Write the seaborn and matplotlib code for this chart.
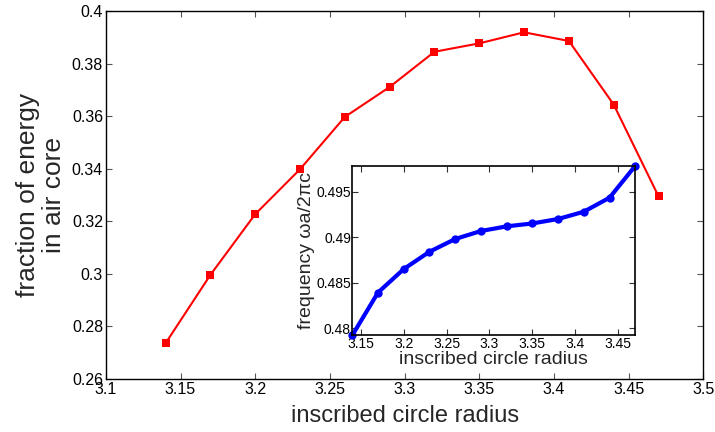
import matplotlib
matplotlib.use("Agg")
import matplotlib.pyplot as plt
import seaborn as sns
import pandas as pd

radius = [3.14, 3.17, 3.20, 3.23, 3.26, 3.29, 3.32, 3.35, 3.38, 3.41, 3.44, 3.47]
energy_fraction = [0.2736, 0.2996, 0.3227, 0.3398, 0.3597, 0.3711, 0.3845, 0.3877, 0.3919, 0.3886, 0.3644, 0.3295]
frequency = [0.4792, 0.4839, 0.48648, 0.48838, 0.48978, 0.49066, 0.49117, 0.49149, 0.49198, 0.49278, 0.49432, 0.49782]

main_xticks = [3.1, 3.15, 3.2, 3.25, 3.3, 3.35, 3.4, 3.45, 3.5]
main_xticklabels = ["3.1", "3.15", "3.2", "3.25", "3.3", "3.35", "3.4", "3.45", "3.5"]
main_yticks = [0.26, 0.28, 0.30, 0.32, 0.34, 0.36, 0.38, 0.40]
main_yticklabels = ["0.26", "0.28", "0.3", "0.32", "0.34", "0.36", "0.38", "0.4"]
inset_xticks = [3.15, 3.2, 3.25, 3.3, 3.35, 3.4, 3.45]
inset_xticklabels = ["3.15", "3.2", "3.25", "3.3", "3.35", "3.4", "3.45"]
inset_yticks = [0.48, 0.485, 0.49, 0.495]
inset_yticklabels = ["0.48", "0.485", "0.49", "0.495"]

sns.set_style("ticks")
plt.rcParams['font.family'] = ['Liberation Sans', 'DejaVu Sans']

df = pd.DataFrame({"radius": radius, "energy": energy_fraction, "freq": frequency})

fig = plt.figure(figsize=(7.15, 4.32), dpi=100)
ax = fig.add_axes([0.148, 0.1227, 0.8357, 0.8518])
sns.lineplot(data=df, x="radius", y="energy", ax=ax, color="#ff0000", linewidth=1.5,
             marker="s", markersize=6, markeredgewidth=0, markerfacecolor="#ff0000")
ax.set_xlim(3.1, 3.5)
ax.set_ylim(0.26, 0.40)
ax.set_xticks(main_xticks)
ax.set_xticklabels(main_xticklabels)
ax.set_yticks(main_yticks)
ax.set_yticklabels(main_yticklabels)
ax.tick_params(direction="in", top=True, right=True, length=4, width=0.8,
               labelsize=11.5, colors="#555555", labelcolor="black", pad=2)
for s in ax.spines.values():
    s.set_linewidth(1.0)
    s.set_color("black")
ax.set_xlabel("inscribed circle radius", fontsize=17, labelpad=6)
ax.set_ylabel("fraction of energy\nin air core", fontsize=19, labelpad=4, linespacing=1.1)

ins = fig.add_axes([0.4927, 0.2238, 0.3958, 0.3919])
sns.lineplot(data=df, x="radius", y="freq", ax=ins, color="#0000ff", linewidth=3,
             marker="o", markersize=6, markeredgewidth=0, markerfacecolor="#0000ff")
ins.set_xlim(3.14, 3.47)
ins.set_ylim(0.4792, 0.4978)
ins.set_xticks(inset_xticks)
ins.set_xticklabels(inset_xticklabels)
ins.set_yticks(inset_yticks)
ins.set_yticklabels(inset_yticklabels)
ins.tick_params(direction="in", top=True, right=True, length=4, width=0.8,
                labelsize=10, colors="#333333", labelcolor="black", pad=1)
for s in ins.spines.values():
    s.set_linewidth(1.2)
    s.set_color("black")
ins.set_xlabel("inscribed circle radius", fontsize=14, labelpad=0)
ins.set_ylabel("frequency \u03c9a/2\u03c0c", fontsize=14, labelpad=1)
for l in ins.lines:
    l.set_clip_on(False)

fig.savefig("out.png", dpi=100)
